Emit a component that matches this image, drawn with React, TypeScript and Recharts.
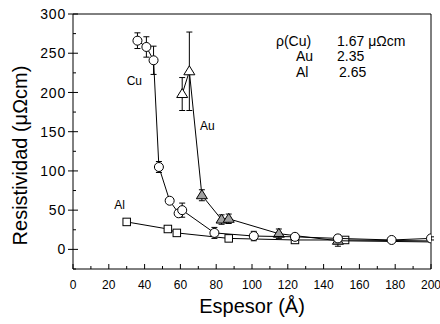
import { ComposedChart, Scatter, XAxis, YAxis, ErrorBar, ReferenceDot } from 'recharts'

// Film thickness (Å) vs resistivity (µΩcm)
const cuThickness = [36, 41, 45, 48, 54, 59, 61, 79, 101, 124, 148, 178, 200]
const cuResistivity = [266, 258, 241, 105, 62, 46, 50, 21, 17, 16, 14, 12, 14]
const cuError = [10, 13, 18, 7, 3, 4, 9, 7, 6, 4, 4, 3, 2]

// last point sits past the right edge (line runs off the plot)
const auThickness = [61, 65, 72, 83, 87, 115, 148, 250]
const auResistivity = [198, 227, 69, 38, 39, 20, 11, 8]
const auError = [21, 50, 7, 6, 6, 6, 7, 0]

const alThickness = [30, 53, 58, 87, 124, 152, 250]
const alResistivity = [35, 26, 21, 14, 12, 12, 9.5]
const alError = [0, 0, 0, 4, 4, 3, 0]

// majors every 20 / 50, minors in between
const xTicks = [0, 10, 20, 30, 40, 50, 60, 70, 80, 90, 100, 110, 120, 130, 140, 150, 160, 170, 180, 190, 200]
const yTicks = [-25, 0, 25, 50, 75, 100, 125, 150, 175, 200, 225, 250, 275, 300]

const toPoints = (xs: number[], ys: number[], errs: number[]) =>
  xs.map((x, i) => ({ x, y: ys[i], err: errs[i] }))

const cuData = toPoints(cuThickness, cuResistivity, cuError)
const auData = toPoints(auThickness, auResistivity, auError)
const alData = toPoints(alThickness, alResistivity, alError)

const FONT = '"Liberation Sans", Arial, sans-serif'

const CircleMark = (p: any) => (
  <circle cx={p.cx} cy={p.cy} r={4.5} fill="#fff" stroke="#000" strokeWidth={1} />
)
// the low-lying triangles look shaded in the original
const TriangleMark = (p: any) => (
  <polygon
    points={`${p.cx},${p.cy - 5.5} ${p.cx - 5.5},${p.cy + 3.5} ${p.cx + 5.5},${p.cy + 3.5}`}
    fill={p.payload && p.payload.y < 100 ? '#a0a0a0' : '#fff'}
    stroke="#000"
    strokeWidth={1}
  />
)
const SquareMark = (p: any) => (
  <rect x={p.cx - 3.75} y={p.cy - 3.75} width={7.5} height={7.5} fill="#fff" stroke="#000" strokeWidth={1} />
)
const NoMark = () => <g />

const isMajorX = (v: number) => v % 20 === 0
const isMajorY = (v: number) => v % 50 === 0

// inward tick marks, drawn by the tick renderer itself
const BottomTick = (p: any) => {
  const v = p.payload.value
  const major = isMajorX(v)
  return (
    <g>
      <line x1={p.x} x2={p.x} y1={p.y} y2={p.y - (major ? 5 : 3)} stroke="#000" />
      {major && (
        <text x={p.x} y={p.y + 20} textAnchor="middle" fontSize={12} fontFamily={FONT} fill="#000">
          {v}
        </text>
      )}
    </g>
  )
}
const LeftTick = (p: any) => {
  const v = p.payload.value
  const major = isMajorY(v)
  return (
    <g>
      <line x1={p.x - (major ? 5 : 0)} x2={p.x + (major ? 5 : 3)} y1={p.y} y2={p.y} stroke="#000" />
      {major && (
        <text x={p.x - 7} y={p.y} dy="0.36em" textAnchor="end" fontSize={14} letterSpacing={0.8} fontFamily={FONT} fill="#000">
          {v}
        </text>
      )}
    </g>
  )
}
const TopTick = (p: any) => (
  <line x1={p.x} x2={p.x} y1={p.y} y2={p.y + (isMajorX(p.payload.value) ? 5 : 3)} stroke="#000" />
)
const RightTick = (p: any) => (
  <line x1={p.x} x2={p.x - (isMajorY(p.payload.value) ? 5 : 3)} y1={p.y} y2={p.y} stroke="#000" />
)

// small text placed at a data position
const note = (value: string, size = 14) => (props: any) => (
  <text
    x={props.viewBox.x}
    y={props.viewBox.y}
    dominantBaseline="central"
    fontSize={size}
    fontFamily={FONT}
    fill="#000"
  >
    {value}
  </text>
)

const axisStroke = { stroke: '#000', strokeWidth: 1 }
const lineStyle = { stroke: '#000', strokeWidth: 1 }

export default function App() {
  return (
    <div style={{ position: 'absolute', left: 0, top: 0, background: '#fff' }}>
      <ComposedChart
        width={440}
        height={324}
        margin={{ top: 14, right: 9, bottom: 0, left: 0 }}
        style={{ fontFamily: FONT }}
      >
        <XAxis
          xAxisId={0}
          type="number"
          dataKey="x"
          domain={[0, 200]}
          allowDataOverflow
          ticks={xTicks}
          interval={0}
          height={55}
          tickSize={0}
          tickMargin={0}
          axisLine={axisStroke}
          tickLine={false}
          tick={BottomTick}
          label={(props: any) => (
            <text
              x={props.viewBox.x + props.viewBox.width / 2}
              y={313}
              textAnchor="middle"
              fontSize={20}
              fontFamily={FONT}
              fill="#000"
            >
              Espesor (Å)
            </text>
          )}
        />
        <YAxis
          yAxisId={0}
          type="number"
          dataKey="y"
          domain={[-25, 300]}
          allowDataOverflow
          ticks={yTicks}
          interval={0}
          width={73}
          tickSize={0}
          tickMargin={0}
          axisLine={axisStroke}
          tickLine={false}
          tick={LeftTick}
          label={(props: any) => {
            const cx = 20
            const cy = props.viewBox.y + props.viewBox.height / 2 + 14
            return (
              <text
                x={cx}
                y={cy}
                transform={`rotate(-90 ${cx} ${cy})`}
                textAnchor="middle"
                dominantBaseline="central"
                fontSize={20}
                fontFamily={FONT}
                fill="#000"
              >
                Resistividad (μΩcm)
              </text>
            )
          }}
        />

        {/* frame on the top and right, ticks only */}
        <XAxis xAxisId="top" type="number" orientation="top" domain={[0, 200]} ticks={xTicks} interval={0} mirror height={1}
          tickSize={0} tickMargin={0} axisLine={axisStroke} tickLine={false} tick={TopTick} />
        <YAxis yAxisId="right" type="number" orientation="right" domain={[-25, 300]} ticks={yTicks} interval={0} mirror width={1}
          tickSize={0} tickMargin={0} axisLine={axisStroke} tickLine={false} tick={RightTick} />

        <Scatter data={alData} dataKey="y" line={lineStyle} lineType="joint" shape={SquareMark} isAnimationActive={false} />
        <Scatter data={auData} dataKey="y" line={lineStyle} lineType="joint" shape={TriangleMark} isAnimationActive={false} />
        <Scatter data={cuData} dataKey="y" line={lineStyle} lineType="joint" shape={CircleMark} isAnimationActive={false} />

        {/* error bars drawn over the markers */}
        <Scatter data={alData} dataKey="y" shape={NoMark} isAnimationActive={false}>
          <ErrorBar dataKey="err" direction="y" width={3} stroke="#000" strokeWidth={1} isAnimationActive={false} />
        </Scatter>
        <Scatter data={auData} dataKey="y" shape={NoMark} isAnimationActive={false}>
          <ErrorBar dataKey="err" direction="y" width={3} stroke="#000" strokeWidth={1} isAnimationActive={false} />
        </Scatter>
        <Scatter data={cuData} dataKey="y" shape={NoMark} isAnimationActive={false}>
          <ErrorBar dataKey="err" direction="y" width={3} stroke="#000" strokeWidth={1} isAnimationActive={false} />
        </Scatter>

        {/* curve labels */}
        <ReferenceDot x={30} y={215} r={0} fill="none" stroke="none" label={note('Cu', 12)} />
        <ReferenceDot x={71} y={157} r={0} fill="none" stroke="none" label={note('Au', 12)} />
        <ReferenceDot x={23} y={56} r={0} fill="none" stroke="none" label={note('Al', 12)} />

        {/* bulk resistivities */}
        <ReferenceDot x={113.4} y={266} r={0} fill="none" stroke="none" label={note('ρ(Cu)')} />
        <ReferenceDot x={147.5} y={266} r={0} fill="none" stroke="none" label={note('1.67 μΩcm')} />
        <ReferenceDot x={124.6} y={246} r={0} fill="none" stroke="none" label={note('Au')} />
        <ReferenceDot x={147.5} y={246} r={0} fill="none" stroke="none" label={note('2.35')} />
        <ReferenceDot x={124.6} y={226} r={0} fill="none" stroke="none" label={note('Al')} />
        <ReferenceDot x={148.6} y={226} r={0} fill="none" stroke="none" label={note('2.65')} />
      </ComposedChart>
    </div>
  )
}
